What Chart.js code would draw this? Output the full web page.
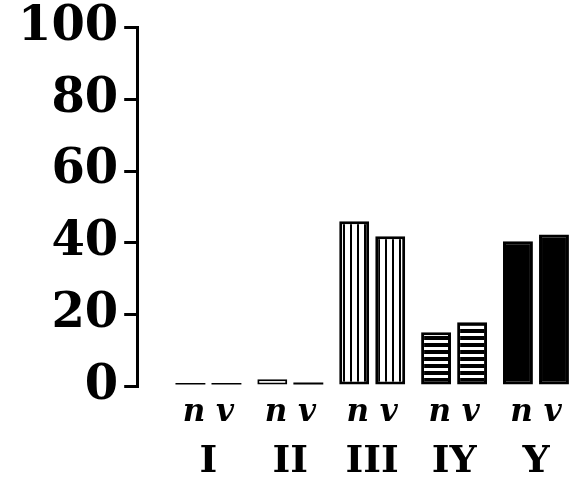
<!DOCTYPE html>
<html>
<head>
<meta charset="utf-8">
<script src="https://cdn.jsdelivr.net/npm/chart.js@4"></script>
<style>
  body { margin: 0; background: #fff; }
  #wrap { width: 572px; height: 484px; position: relative; }
</style>
</head>
<body>
<div id="wrap"><canvas id="barChart"></canvas></div>
<script>
// groups and values
const groups = ['I', 'II', 'III', 'IY', 'Y'];
const nValues = [0, 1.9, 46.0, 15.0, 40.4];
const vValues = [0, 1.0, 41.8, 17.8, 42.3];
const pairLabel = 'n v';

// build a striped fill
function makeStripes(vertical, period, dark) {
    const c = document.createElement('canvas');
    c.width = period;
    c.height = period;
    const g = c.getContext('2d');
    g.fillStyle = '#fff';
    g.fillRect(0, 0, period, period);
    g.fillStyle = '#000';
    if (vertical) g.fillRect(0, 0, dark, period);
    else g.fillRect(0, 0, period, dark);
    return g.createPattern(c, 'repeat');
}

const vStripes = makeStripes(true, 7, 2);
const hStripes = makeStripes(false, 7, 4);
const nFills = ['#000', '#fff', vStripes, hStripes, '#000'];
const vFills = ['#000', '#000', vStripes, hStripes, '#000'];
const nBorders = [0, 2, 3, 3, 3];
const vBorders = [0, 0, 3, 3, 3];

const xMin = 0.13, xMax = 5.44;
const serif = '"DejaVu Serif", serif';

function groupTicks(scale) {
    scale.ticks = groups.map((g, i) => ({ value: i + 1 }));
}

const barStyle = {
    borderColor: '#000',
    borderSkipped: false,
    minBarLength: 3,
    categoryPercentage: 0.88,
    barPercentage: 0.83
};

const ctx = document.getElementById('barChart').getContext('2d');
new Chart(ctx, {
    type: 'bar',
    data: {
        datasets: [
            Object.assign({
                label: 'n',
                data: nValues.map((v, i) => ({ x: i + 1, y: v })),
                backgroundColor: nFills,
                borderWidth: nBorders
            }, barStyle),
            Object.assign({
                label: 'v',
                data: vValues.map((v, i) => ({ x: i + 1, y: v })),
                backgroundColor: vFills,
                borderWidth: vBorders
            }, barStyle)
        ]
    },
    options: {
        responsive: true,
        maintainAspectRatio: false,
        animation: false,
        layout: { padding: { left: 12, right: 0, top: 0, bottom: 0 } },
        plugins: { legend: { display: false }, tooltip: { enabled: false } },
        scales: {
            x: {
                type: 'linear',
                offset: false,
                min: xMin,
                max: xMax,
                afterBuildTicks: groupTicks,
                grid: { display: false },
                border: { display: false },
                ticks: {
                    callback: () => pairLabel,
                    color: '#000',
                    padding: 5,
                    maxRotation: 0,
                    font: { family: serif, size: 31, weight: 'bold', style: 'italic', lineHeight: 0.9 }
                }
            },
            x2: {
                type: 'linear',
                position: 'bottom',
                offset: false,
                min: xMin,
                max: xMax,
                afterBuildTicks: groupTicks,
                grid: { display: false },
                border: { display: false },
                ticks: {
                    callback: (v) => groups[v - 1],
                    color: '#000',
                    padding: 3,
                    maxRotation: 0,
                    font: { family: serif, size: 38, weight: 'bold', lineHeight: 1.0 }
                }
            },
            y: {
                min: 0,
                max: 100,
                grid: {
                    drawOnChartArea: false,
                    color: '#000',
                    lineWidth: 3,
                    tickLength: 13
                },
                border: { color: '#000', width: 3 },
                ticks: {
                    stepSize: 10,
                    color: '#000',
                    padding: 6,
                    callback: (v) => (v % 20 === 0 ? v : ''),
                    font: { family: serif, size: 48, weight: 'bold', lineHeight: 0.9 }
                }
            }
        }
    }
});
</script>
</body>
</html>
